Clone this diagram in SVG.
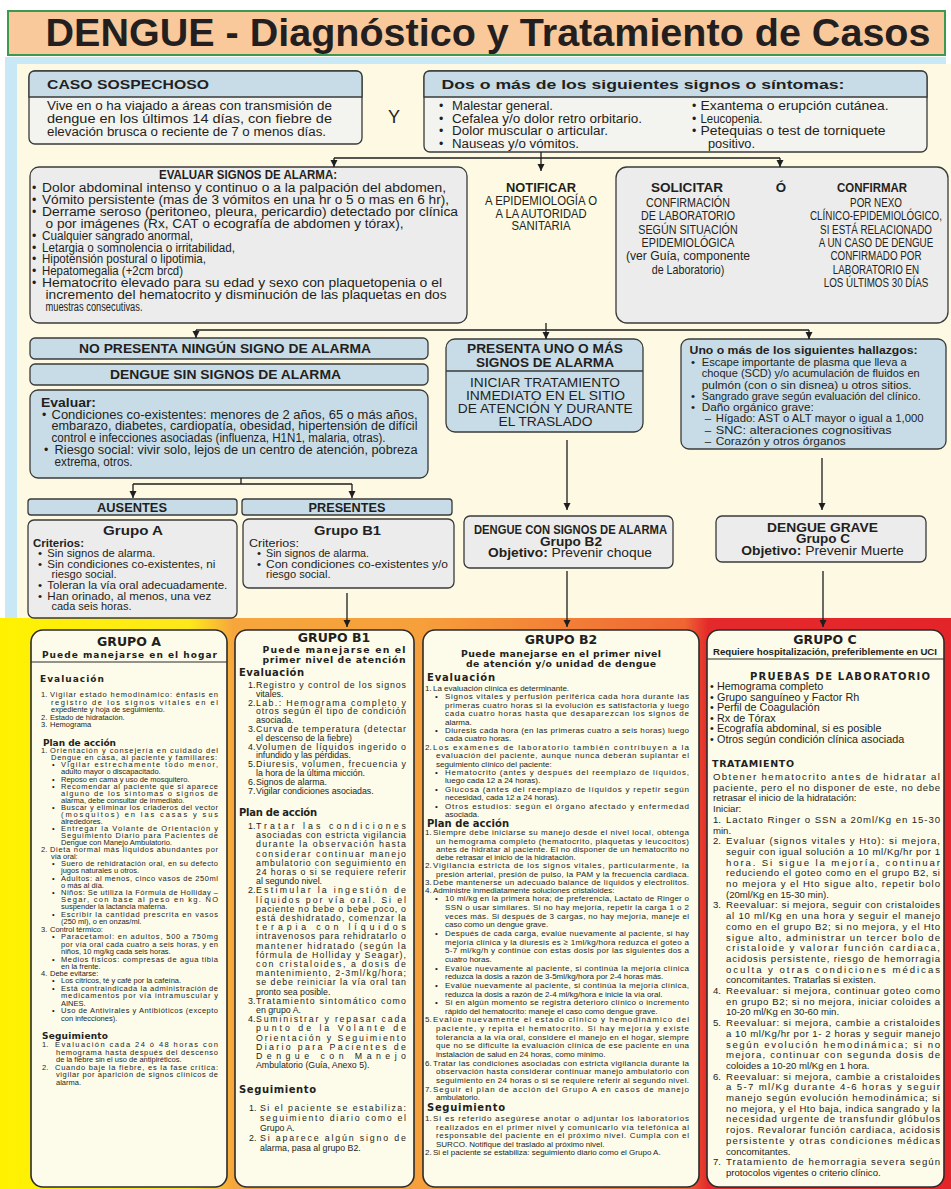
<svg xmlns="http://www.w3.org/2000/svg" width="951" height="1189" viewBox="0 0 951 1189">
<defs>
<marker id="ah" markerUnits="userSpaceOnUse" markerWidth="8" markerHeight="8" refX="7" refY="4" orient="auto"><path d="M0,0.5 L7,4 L0,7.5 Z" fill="#1e1e1e"/></marker>
<linearGradient id="bot" x1="0" y1="0" x2="951" y2="0" gradientUnits="userSpaceOnUse">
<stop offset="0" stop-color="#fff200"/>
<stop offset="0.2" stop-color="#fde81c"/>
<stop offset="0.245" stop-color="#f7a63d"/>
<stop offset="0.44" stop-color="#f6a03b"/>
<stop offset="0.72" stop-color="#ef6533"/>
<stop offset="0.745" stop-color="#e4292b"/>
<stop offset="1" stop-color="#e3252a"/>
</linearGradient>
</defs>
<style>
.t{font-family:"Liberation Sans",Arial,sans-serif;fill:#231f20}
.b{font-weight:bold}
.h{font-family:"DejaVu Sans","Liberation Sans",sans-serif;font-weight:bold;fill:#231f20}
.m{text-anchor:middle}
.bx{stroke:#3a3a3a;stroke-width:1.3}
.blue{fill:#c8dce8}
.gray{fill:#ececec}
.col{fill:#fdfbea;stroke:#2b2b2b;stroke-width:1.6}
.conn{stroke:#1e1e1e;stroke-width:1.3;fill:none}
.u{font-size:12.3px}
.us{font-size:11.6px}
.ub{font-size:13.3px;font-weight:bold}
.cb{font-size:12.4px;font-weight:bold}
</style>

<!-- backgrounds -->
<rect x="0" y="0" width="951" height="1189" fill="#ffffff"/>
<rect x="5" y="57" width="941" height="563" fill="#c8e8f5"/>
<rect x="17" y="64" width="934" height="556" fill="#fdf9e2"/>
<rect x="0" y="618" width="951" height="571" fill="url(#bot)"/>

<g id="title">
<rect x="8" y="11" width="937" height="44" fill="#f9c99b" stroke="#3c9a4e" stroke-width="2"/>
<text class="t b" x="45.5" y="46" font-size="38" textLength="885" lengthAdjust="spacingAndGlyphs">DENGUE - Diagnóstico y Tratamiento de Casos</text>
</g>

<g id="caso-sospechoso">
<rect class="bx" x="29" y="71" width="333" height="73" rx="6" fill="#f3f3f0"/>
<path class="bx blue" d="M29,97 V77 Q29,71 35,71 H356 Q362,71 362,77 V97 Z"/>
<text class="t ub" x="47" y="89" textLength="162" lengthAdjust="spacingAndGlyphs">CASO SOSPECHOSO</text>
<text class="t u" x="47" y="110" textLength="285" lengthAdjust="spacingAndGlyphs">Vive en o ha viajado a áreas con transmisión de</text>
<text class="t u" x="47" y="123" textLength="285" lengthAdjust="spacingAndGlyphs">dengue en los últimos 14 días, con fiebre de</text>
<text class="t u" x="47" y="136" textLength="279" lengthAdjust="spacingAndGlyphs">elevación brusca o reciente de 7 o menos días.</text>
</g>

<text class="t" x="388" y="123" font-size="18">Y</text>

<g id="signos-sintomas">
<rect class="bx" x="424" y="71" width="503" height="81" rx="6" fill="#f3f3f0"/>
<path class="bx blue" d="M424,97 V77 Q424,71 430,71 H921 Q927,71 927,77 V97 Z"/>
<text class="t ub" x="441.5" y="89" textLength="403" lengthAdjust="spacingAndGlyphs">Dos o más de los siguientes signos o síntomas:</text>
<text class="t u" x="439" y="110">•</text><text class="t u" x="452" y="110" textLength="101" lengthAdjust="spacingAndGlyphs">Malestar general.</text>
<text class="t u" x="439" y="122.5">•</text><text class="t u" x="452" y="122.5" textLength="190" lengthAdjust="spacingAndGlyphs">Cefalea y/o dolor retro orbitario.</text>
<text class="t u" x="439" y="135">•</text><text class="t u" x="452" y="135" textLength="156" lengthAdjust="spacingAndGlyphs">Dolor muscular o articular.</text>
<text class="t u" x="439" y="147.5">•</text><text class="t u" x="452" y="147.5" textLength="127" lengthAdjust="spacingAndGlyphs">Nauseas y/o vómitos.</text>
<text class="t u" x="692" y="110">•</text><text class="t u" x="700.5" y="110" textLength="188" lengthAdjust="spacingAndGlyphs">Exantema o erupción cutánea.</text>
<text class="t u" x="692" y="122.5">•</text><text class="t u" x="700.5" y="122.5" textLength="62" lengthAdjust="spacingAndGlyphs">Leucopenia.</text>
<text class="t u" x="692" y="135">•</text><text class="t u" x="700.5" y="135" textLength="185" lengthAdjust="spacingAndGlyphs">Petequias o test de torniquete</text>
<text class="t u" x="708" y="147.5" textLength="47" lengthAdjust="spacingAndGlyphs">positivo.</text>
</g>

<g id="evaluar-signos">
<rect class="bx gray" x="30" y="167" width="437" height="156" rx="9"/>
<text class="t ub" x="159" y="179" textLength="178" lengthAdjust="spacingAndGlyphs">EVALUAR SIGNOS DE ALARMA:</text>
<text class="t u" x="32" y="192">•</text><text class="t u" x="42" y="192" textLength="404" lengthAdjust="spacingAndGlyphs">Dolor abdominal intenso y continuo o a la palpación del abdomen,</text>
<text class="t u" x="32" y="203.9">•</text><text class="t u" x="42" y="203.9" textLength="407" lengthAdjust="spacingAndGlyphs">Vómito persistente (mas de 3 vómitos en una hr o 5 o mas en 6 hr),</text>
<text class="t u" x="32" y="215.8">•</text><text class="t u" x="42" y="215.8" textLength="416" lengthAdjust="spacingAndGlyphs">Derrame seroso (peritoneo, pleura, pericardio) detectado por clínica</text>
<text class="t u" x="45.5" y="227.7" textLength="358" lengthAdjust="spacingAndGlyphs">o por imágenes (Rx, CAT o ecografía de abdomen y tórax),</text>
<text class="t u" x="32" y="239.6">•</text><text class="t u" x="42" y="239.6" textLength="151" lengthAdjust="spacingAndGlyphs">Cualquier sangrado anormal,</text>
<text class="t u" x="32" y="251.5">•</text><text class="t u" x="42" y="251.5" textLength="193" lengthAdjust="spacingAndGlyphs">Letargia o somnolencia o irritabilidad,</text>
<text class="t u" x="32" y="263.4">•</text><text class="t u" x="42" y="263.4" textLength="164" lengthAdjust="spacingAndGlyphs">Hipotensión postural o lipotimia,</text>
<text class="t u" x="32" y="275.3">•</text><text class="t u" x="42" y="275.3" textLength="141" lengthAdjust="spacingAndGlyphs">Hepatomegalia (+2cm brcd)</text>
<text class="t u" x="32" y="287.2">•</text><text class="t u" x="42" y="287.2" textLength="400" lengthAdjust="spacingAndGlyphs">Hematocrito elevado para su edad y sexo con plaquetopenia o el</text>
<text class="t u" x="45.5" y="299.1" textLength="401" lengthAdjust="spacingAndGlyphs">incremento del hematocrito y disminución de las plaquetas en dos</text>
<text class="t u" x="45.5" y="311" textLength="97" lengthAdjust="spacingAndGlyphs">muestras consecutivas.</text>
</g>

<g id="notificar">
<text class="t ub m" x="541" y="192" textLength="70" lengthAdjust="spacingAndGlyphs">NOTIFICAR</text>
<text class="t u m" x="541" y="205" textLength="112" lengthAdjust="spacingAndGlyphs">A EPIDEMIOLOGÍA O</text>
<text class="t u m" x="541" y="217.5" textLength="91" lengthAdjust="spacingAndGlyphs">A LA AUTORIDAD</text>
<text class="t u m" x="541" y="230" textLength="59" lengthAdjust="spacingAndGlyphs">SANITARIA</text>
</g>

<g id="solicitar-confirmar">
<rect class="bx gray" x="616" y="167" width="332" height="156" rx="11"/>
<text class="t ub m" x="687" y="192" textLength="72" lengthAdjust="spacingAndGlyphs">SOLICITAR</text>
<text class="t ub m" x="781" y="192">Ó</text>
<text class="t ub m" x="872" y="192" textLength="70" lengthAdjust="spacingAndGlyphs">CONFIRMAR</text>
<g transform="translate(688 0) scale(0.85 1)">
<text class="t m" x="0" y="207" font-size="12.6">CONFIRMACIÓN</text>
<text class="t m" x="0" y="220.3" font-size="12.6">DE LABORATORIO</text>
<text class="t m" x="0" y="233.6" font-size="12.6">SEGÚN SITUACIÓN</text>
<text class="t m" x="0" y="247" font-size="12.6">EPIDEMIOLÓGICA</text>
<text class="t m" x="0" y="260.3" font-size="12.6" textLength="146" lengthAdjust="spacingAndGlyphs">(ver Guía, componente</text>
<text class="t m" x="0" y="273.6" font-size="12.6">de Laboratorio)</text>
</g>
<g transform="translate(876 0) scale(0.78 1)">
<text class="t m" x="0" y="207" font-size="12.6">POR NEXO</text>
<text class="t m" x="0" y="220.3" font-size="12.6">CLÍNICO-EPIDEMIOLÓGICO,</text>
<text class="t m" x="0" y="233.6" font-size="12.6">SI ESTÁ RELACIONADO</text>
<text class="t m" x="0" y="247" font-size="12.6">A UN CASO DE DENGUE</text>
<text class="t m" x="0" y="260.3" font-size="12.6">CONFIRMADO POR</text>
<text class="t m" x="0" y="273.6" font-size="12.6">LABORATORIO EN</text>
<text class="t m" x="0" y="287" font-size="12.6">LOS ÚLTIMOS 30 DÍAS</text>
</g>
</g>

<g id="no-presenta">
<rect class="bx blue" x="30" y="338" width="398" height="21" rx="5"/>
<text class="t ub m" x="225" y="353" textLength="292" lengthAdjust="spacingAndGlyphs">NO PRESENTA NINGÚN SIGNO DE ALARMA</text>
</g>
<g id="dengue-sin-signos">
<rect class="bx blue" x="30" y="364" width="398" height="21" rx="5"/>
<text class="t ub m" x="225.5" y="379" textLength="231" lengthAdjust="spacingAndGlyphs">DENGUE SIN SIGNOS DE ALARMA</text>
</g>
<g id="evaluar-condiciones">
<rect class="bx blue" x="30" y="390" width="398" height="88" rx="8"/>
<text class="t ub" x="41" y="407" textLength="55" lengthAdjust="spacingAndGlyphs">Evaluar:</text>
<text class="t u" x="42" y="418.5">•</text><text class="t u" x="51.5" y="418.5" textLength="366" lengthAdjust="spacingAndGlyphs">Condiciones co-existentes: menores de 2 años, 65 o más años,</text>
<text class="t u" x="51.5" y="430" textLength="366" lengthAdjust="spacingAndGlyphs">embarazo, diabetes, cardiopatía, obesidad, hipertensión de difícil</text>
<text class="t u" x="51.5" y="442" textLength="334" lengthAdjust="spacingAndGlyphs">control e infecciones asociadas (influenza, H1N1, malaria, otras).</text>
<text class="t u" x="44" y="454">•</text><text class="t u" x="54.6" y="454" textLength="363" lengthAdjust="spacingAndGlyphs">Riesgo social: vivir solo, lejos de un centro de atención, pobreza</text>
<text class="t u" x="54.6" y="466" textLength="78" lengthAdjust="spacingAndGlyphs">extrema, otros.</text>
</g>

<g id="ausentes">
<rect class="bx blue" x="28" y="499" width="209" height="16" rx="3"/>
<text class="t cb m" x="132" y="511.5" textLength="70" lengthAdjust="spacingAndGlyphs">AUSENTES</text>
</g>
<g id="presentes">
<rect class="bx blue" x="242" y="499" width="210" height="16" rx="3"/>
<text class="t cb m" x="347" y="511.5" textLength="77" lengthAdjust="spacingAndGlyphs">PRESENTES</text>
</g>

<g id="grupo-a-criterios">
<rect class="bx gray" x="28" y="520" width="209" height="98" rx="6"/>
<text class="t cb m" x="133" y="535" textLength="60" lengthAdjust="spacingAndGlyphs">Grupo A</text>
<text class="t us b" x="33" y="546.5" textLength="51" lengthAdjust="spacingAndGlyphs">Criterios:</text>
<text class="t us" x="38" y="557">•</text><text class="t us" x="47.3" y="557" textLength="108" lengthAdjust="spacingAndGlyphs">Sin signos de alarma.</text>
<text class="t us" x="38" y="567.5">•</text><text class="t us" x="47.3" y="567.5" textLength="168" lengthAdjust="spacingAndGlyphs">Sin condiciones co-existentes, ni</text>
<text class="t us" x="51.5" y="578" textLength="65" lengthAdjust="spacingAndGlyphs">riesgo social.</text>
<text class="t us" x="38" y="588.5">•</text><text class="t us" x="47.3" y="588.5" textLength="180" lengthAdjust="spacingAndGlyphs">Toleran la vía oral adecuadamente.</text>
<text class="t us" x="38" y="599.5">•</text><text class="t us" x="47.3" y="599.5" textLength="164" lengthAdjust="spacingAndGlyphs">Han orinado, al menos, una vez</text>
<text class="t us" x="51.5" y="610" textLength="80" lengthAdjust="spacingAndGlyphs">cada seis horas.</text>
</g>

<g id="grupo-b1-criterios">
<rect class="bx gray" x="243" y="519" width="211" height="69" rx="6"/>
<text class="t cb m" x="347.5" y="535" textLength="67" lengthAdjust="spacingAndGlyphs">Grupo B1</text>
<text class="t us" x="249" y="546.5" textLength="50" lengthAdjust="spacingAndGlyphs">Criterios:</text>
<text class="t us" x="257" y="557">•</text><text class="t us" x="266" y="557" textLength="103" lengthAdjust="spacingAndGlyphs">Sin signos de alarma.</text>
<text class="t us" x="257" y="567.5">•</text><text class="t us" x="266" y="567.5" textLength="182" lengthAdjust="spacingAndGlyphs">Con condiciones co-existentes y/o</text>
<text class="t us" x="266" y="578" textLength="64.5" lengthAdjust="spacingAndGlyphs">riesgo social.</text>
</g>

<g id="presenta-signos">
<rect class="bx blue" x="446" y="339" width="197" height="93" rx="9"/>
<line class="bx" x1="446" y1="371" x2="643" y2="371"/>
<text class="t m" x="545" y="353" font-size="13.5" font-weight="bold" textLength="156" lengthAdjust="spacingAndGlyphs">PRESENTA UNO O MÁS</text>
<text class="t m" x="545" y="366.5" font-size="13.5" font-weight="bold" textLength="138" lengthAdjust="spacingAndGlyphs">SIGNOS DE ALARMA</text>
<text class="t m" x="545" y="386.5" font-size="13.5" textLength="150" lengthAdjust="spacingAndGlyphs">INICIAR TRATAMIENTO</text>
<text class="t m" x="545.5" y="399.5" font-size="13.5" textLength="159" lengthAdjust="spacingAndGlyphs">INMEDIATO EN EL SITIO</text>
<text class="t m" x="545.3" y="412.5" font-size="13.5" textLength="175" lengthAdjust="spacingAndGlyphs">DE ATENCIÓN Y DURANTE</text>
<text class="t m" x="545.5" y="426" font-size="13.5" textLength="94" lengthAdjust="spacingAndGlyphs">EL TRASLADO</text>
</g>

<g id="dengue-con-signos">
<rect class="bx gray" x="464" y="516" width="209" height="52" rx="6"/>
<text class="t cb m" x="570.5" y="534" textLength="193" lengthAdjust="spacingAndGlyphs">DENGUE CON SIGNOS DE ALARMA</text>
<text class="t cb m" x="571" y="545.5" textLength="62" lengthAdjust="spacingAndGlyphs">Grupo B2</text>
<text class="t m" x="570" y="557" font-size="12.4" textLength="164" lengthAdjust="spacingAndGlyphs"><tspan font-weight="bold">Objetivo:</tspan> Prevenir choque</text>
</g>

<g id="hallazgos-graves">
<rect class="bx blue" x="681" y="339" width="265" height="110" rx="8"/>
<text class="t us b" x="689.6" y="353.5" textLength="228" lengthAdjust="spacingAndGlyphs">Uno o más de los siguientes hallazgos:</text>
<text class="t us" x="691" y="365.5">•</text><text class="t us" x="701.7" y="365.5" textLength="205" lengthAdjust="spacingAndGlyphs">Escape importante de plasma que lleva a</text>
<text class="t us" x="701.7" y="377" textLength="218" lengthAdjust="spacingAndGlyphs">choque (SCD) y/o acumulación de fluidos en</text>
<text class="t us" x="701.7" y="388.5" textLength="210" lengthAdjust="spacingAndGlyphs">pulmón (con o sin disnea) u otros sitios.</text>
<text class="t us" x="691" y="399.5">•</text><text class="t us" x="701.7" y="399.5" textLength="219" lengthAdjust="spacingAndGlyphs">Sangrado grave según evaluación del clínico.</text>
<text class="t us" x="691" y="410.5">•</text><text class="t us" x="701.7" y="410.5" textLength="112" lengthAdjust="spacingAndGlyphs">Daño orgánico grave:</text>
<text class="t us" x="704.7" y="422">–</text><text class="t us" x="715.7" y="422" textLength="208" lengthAdjust="spacingAndGlyphs">Hígado: AST o ALT mayor o igual a 1,000</text>
<text class="t us" x="704.7" y="433.5">–</text><text class="t us" x="715.7" y="433.5" textLength="176" lengthAdjust="spacingAndGlyphs">SNC: alteraciones cognositivas</text>
<text class="t us" x="704.7" y="444.5">–</text><text class="t us" x="715.7" y="444.5" textLength="130" lengthAdjust="spacingAndGlyphs">Corazón y otros órganos</text>
</g>

<g id="dengue-grave">
<rect class="bx gray" x="716" y="516" width="210" height="46" rx="6"/>
<text class="t cb m" x="822.5" y="532" textLength="111" lengthAdjust="spacingAndGlyphs">DENGUE GRAVE</text>
<text class="t cb m" x="823" y="543" textLength="54" lengthAdjust="spacingAndGlyphs">Grupo C</text>
<text class="t m" x="822.5" y="554.5" font-size="12.4" textLength="162.6" lengthAdjust="spacingAndGlyphs"><tspan font-weight="bold">Objetivo:</tspan> Prevenir Muerte</text>
</g>

<!-- ============ GRUPO A column ============ -->
<g id="col-grupo-a">
<rect class="col" x="31" y="630" width="196" height="557" rx="12"/>
<line x1="31" y1="662" x2="227" y2="662" stroke="#2b2b2b" stroke-width="1"/>
<text class="h m" x="129" y="646" font-size="12.5">GRUPO A</text>
<text class="h m" x="129.5" y="657.5" font-size="9" textLength="175">Puede manejarse en el hogar</text>
<g class="t" font-size="7.5">
<text class="h" x="40" y="682" font-size="9" textLength="64">Evaluación</text>
<text x="41" y="697">1.</text><text x="50" y="697" textLength="168">Vigilar estado hemodinámico: énfasis en</text>
<text x="51" y="704.5" textLength="167">registro de los signos vitales en el</text>
<text x="51" y="712">expediente y hoja de seguimiento.</text>
<text x="41" y="719.5">2.</text><text x="50" y="719.5">Estado de hidratación.</text>
<text x="41" y="727">3.</text><text x="50" y="727">Hemograma</text>
<text class="h" x="43" y="746" font-size="9" textLength="73">Plan de acción</text>
<text x="41" y="753">1.</text><text x="50" y="753" textLength="168">Orientación y consejería en cuidado del</text>
<text x="51" y="760" textLength="166">Dengue en casa, al paciente y familiares:</text>
<text x="52" y="767">•</text><text x="61" y="767" textLength="157">Vigilar estrechamente todo menor,</text>
<text x="61" y="774">adulto mayor o discapacitado.</text>
<text x="52" y="781.5">•</text><text x="61" y="781.5">Reposo en cama y uso de mosquitero.</text>
<text x="52" y="789">•</text><text x="61" y="789" textLength="157">Recomendar al paciente que si aparece</text>
<text x="61" y="796" textLength="157">alguno de los síntomas o signos de</text>
<text x="61" y="803">alarma, debe consultar de inmediato.</text>
<text x="52" y="810">•</text><text x="61" y="810" textLength="157">Buscar y eliminar los criaderos del vector</text>
<text x="61" y="817" textLength="157">(mosquitos) en las casas y sus</text>
<text x="61" y="824">alrededores.</text>
<text x="52" y="831">•</text><text x="61" y="831" textLength="157">Entregar la Volante de Orientación y</text>
<text x="61" y="838" textLength="157">Seguimiento Diario para Pacientes de</text>
<text x="61" y="845">Dengue con Manejo Ambulatorio.</text>
<text x="41" y="852">2.</text><text x="50" y="852" textLength="168">Dieta normal más líquidos abundantes por</text>
<text x="51" y="859">vía oral:</text>
<text x="52" y="866">•</text><text x="61" y="866" textLength="157">Suero de rehidratación oral, en su defecto</text>
<text x="61" y="873">jugos naturales u otros.</text>
<text x="52" y="880.5">•</text><text x="61" y="880.5" textLength="157">Adultos: al menos, cinco vasos de 250ml</text>
<text x="61" y="887.5">o más al día.</text>
<text x="52" y="894.5">•</text><text x="61" y="894.5" textLength="157">Niños: Se utiliza la Fórmula de Holliday –</text>
<text x="61" y="902" textLength="157">Segar, con base al peso en kg. NO</text>
<text x="61" y="909">suspender la lactancia materna.</text>
<text x="52" y="916.5">•</text><text x="61" y="916.5" textLength="157">Escribir la cantidad prescrita en vasos</text>
<text x="61" y="924">(250 ml), o en onzas/ml.</text>
<text x="41" y="931.5">3.</text><text x="50" y="931.5">Control térmico:</text>
<text x="52" y="939">•</text><text x="61" y="939" textLength="157">Paracetamol: en adultos, 500 a 750mg</text>
<text x="61" y="946.5" textLength="157">por vía oral cada cuatro a seis horas, y en</text>
<text x="61" y="954">niños, 10 mg/kg cada seis horas.</text>
<text x="52" y="961.5">•</text><text x="61" y="961.5" textLength="157">Medios físicos: compresas de agua tibia</text>
<text x="61" y="969">en la frente.</text>
<text x="41" y="976">4.</text><text x="50" y="976">Debe evitarse:</text>
<text x="52" y="983">•</text><text x="61" y="983">Los cítricos, té y café por la cafeína.</text>
<text x="52" y="990.5">•</text><text x="61" y="990.5" textLength="157">Está contraindicada la administración de</text>
<text x="61" y="998" textLength="157">medicamentos por vía intramuscular y</text>
<text x="61" y="1005.5">AINES.</text>
<text x="52" y="1013">•</text><text x="61" y="1013" textLength="157">Uso de Antivirales y Antibióticos (excepto</text>
<text x="61" y="1020.5">con infecciones).</text>
<text class="h" x="42" y="1039" font-size="9" textLength="66">Seguimiento</text>
<text x="42" y="1047">1.</text><text x="55" y="1047" textLength="163">Evaluación cada 24 ó 48 horas con</text>
<text x="56" y="1054.5" textLength="162">hemograma hasta después del descenso</text>
<text x="56" y="1062">de la fiebre sin el uso de antipiréticos.</text>
<text x="42" y="1069.5">2.</text><text x="55" y="1069.5" textLength="163">Cuando baje la fiebre, es la fase crítica:</text>
<text x="56" y="1077" textLength="162">vigilar por aparición de signos clínicos de</text>
<text x="56" y="1084.5">alarma.</text>
</g>
</g>

<!-- ============ GRUPO B1 column ============ -->
<g id="col-grupo-b1">
<rect class="col" x="235" y="630" width="179" height="557" rx="12"/>
<text class="h m" x="334" y="642" font-size="12.5">GRUPO B1</text>
<text class="h m" x="334" y="652.5" font-size="9.3" textLength="143">Puede manejarse en el</text>
<text class="h m" x="334" y="662.5" font-size="9.3" textLength="143">primer nivel de atención</text>
<g class="t" font-size="8.8">
<text class="h" x="239" y="676" font-size="10" textLength="65">Evaluación</text>
<text x="248" y="688">1.</text><text x="256" y="688" textLength="150">Registro y control de los signos</text>
<text x="256" y="696.8">vitales.</text>
<text x="248" y="705.6">2.</text><text x="256" y="705.6" textLength="150">Lab.: Hemograma completo y</text>
<text x="256" y="714.4" textLength="150">otros según el tipo de condición</text>
<text x="256" y="723.2">asociada.</text>
<text x="248" y="732">3.</text><text x="256" y="732" textLength="150">Curva de temperatura (detectar</text>
<text x="256" y="740.8">el descenso de la fiebre)</text>
<text x="248" y="749.6">4.</text><text x="256" y="749.6" textLength="150">Volumen de líquidos ingerido o</text>
<text x="256" y="758.4">infundido y las pérdidas.</text>
<text x="248" y="767.2">5.</text><text x="256" y="767.2" textLength="150">Diuresis, volumen, frecuencia y</text>
<text x="256" y="776">la hora de la última micción.</text>
<text x="248" y="784.8">6.</text><text x="256" y="784.8">Signos de alarma.</text>
<text x="248" y="793.6">7.</text><text x="256" y="793.6">Vigilar condiciones asociadas.</text>
<text class="h" x="239" y="816" font-size="10" textLength="78">Plan de acción</text>
<text x="248" y="829">1.</text><text x="256" y="829" textLength="150">Tratar las condiciones</text>
<text x="256" y="838.2" textLength="150">asociadas con estricta vigilancia</text>
<text x="256" y="847.4" textLength="150">durante la observación hasta</text>
<text x="256" y="856.6" textLength="150">considerar continuar manejo</text>
<text x="256" y="865.8" textLength="150">ambulatorio con seguimiento en</text>
<text x="256" y="875" textLength="150">24 horas o si se requiere referir</text>
<text x="256" y="884.2">al segundo nivel.</text>
<text x="248" y="893.4">2.</text><text x="256" y="893.4" textLength="150">Estimular la ingestión de</text>
<text x="256" y="902.6" textLength="150">líquidos por vía oral.  Si el</text>
<text x="256" y="911.8" textLength="150">paciente no bebe o bebe poco, o</text>
<text x="256" y="921" textLength="150">está deshidratado, comenzar la</text>
<text x="256" y="930.2" textLength="150">terapia con líquidos</text>
<text x="256" y="939.4" textLength="150">intravenosos para rehidratarlo o</text>
<text x="256" y="948.6" textLength="150">mantener hidratado (según la</text>
<text x="256" y="957.8" textLength="150">fórmula de Holliday y Seagar),</text>
<text x="256" y="967" textLength="150">con cristaloides, a dosis de</text>
<text x="256" y="976.2" textLength="150">mantenimiento, 2-3ml/kg/hora;</text>
<text x="256" y="985.4" textLength="150">se debe reiniciar la vía oral tan</text>
<text x="256" y="994.6">pronto sea posible.</text>
<text x="248" y="1003.8">3.</text><text x="256" y="1003.8" textLength="150">Tratamiento sintomático como</text>
<text x="256" y="1013">en grupo A.</text>
<text x="248" y="1022.2">4.</text><text x="256" y="1022.2" textLength="150">Suministrar y repasar cada</text>
<text x="256" y="1031.4" textLength="150">punto de la Volante de</text>
<text x="256" y="1040.6" textLength="150">Orientación y Seguimiento</text>
<text x="256" y="1049.8" textLength="150">Diario para Pacientes de</text>
<text x="256" y="1059" textLength="150">Dengue con Manejo</text>
<text x="256" y="1068.2">Ambulatorio (Guía, Anexo 5).</text>
<text class="h" x="239" y="1093" font-size="10" textLength="77">Seguimiento</text>
<text x="249" y="1111">1.</text><text x="260" y="1111" textLength="146">Si el paciente se estabiliza:</text>
<text x="260" y="1121" textLength="146">seguimiento diario como el</text>
<text x="260" y="1131">Grupo A.</text>
<text x="249" y="1141">2.</text><text x="260" y="1141" textLength="146">Si aparece algún signo de</text>
<text x="260" y="1151">alarma, pasa al grupo B2.</text>
</g>
</g>

<!-- ============ GRUPO B2 column ============ -->
<g id="col-grupo-b2">
<rect class="col" x="423" y="630" width="276" height="557" rx="12"/>
<text class="h m" x="561" y="644" font-size="12.5">GRUPO B2</text>
<text class="h m" x="561" y="656.5" font-size="9.3" textLength="200">Puede manejarse en el primer nivel</text>
<text class="h m" x="561" y="666.5" font-size="9.3" textLength="190">de atención y/o unidad de dengue</text>
<g class="t" font-size="8">
<text class="h" x="427" y="681" font-size="10" textLength="68">Evaluación</text>
<text x="425" y="691">1.</text><text x="433" y="691">La evaluación clínica es determinante.</text>
<text x="435" y="699.4">•</text><text x="445" y="699.4" textLength="244">Signos vitales y perfusión periférica cada hora durante las</text>
<text x="445" y="707.8" textLength="244">primeras cuatro horas si la evolución es satisfactoria y luego</text>
<text x="445" y="716.2" textLength="244">cada cuatro horas hasta que desaparezcan los signos de</text>
<text x="445" y="724.6">alarma.</text>
<text x="435" y="733">•</text><text x="445" y="733" textLength="244">Diuresis cada hora (en las primeras cuatro a seis horas) luego</text>
<text x="445" y="741.4">cada cuatro horas.</text>
<text x="425" y="749.8">2.</text><text x="433" y="749.8" textLength="256">Los exámenes de laboratorio también contribuyen a la</text>
<text x="436" y="758.2" textLength="253">evaluación del paciente, aunque nunca deberán suplantar el</text>
<text x="436" y="766.6">seguimiento clínico del paciente:</text>
<text x="435" y="775">•</text><text x="445" y="775" textLength="244">Hematocrito (antes y después del reemplazo de líquidos,</text>
<text x="445" y="783.4">luego cada 12 a 24 horas).</text>
<text x="435" y="791.8">•</text><text x="445" y="791.8" textLength="244">Glucosa (antes del reemplazo de líquidos y repetir según</text>
<text x="445" y="800.2">necesidad, cada 12 a 24 horas).</text>
<text x="435" y="808.6">•</text><text x="445" y="808.6" textLength="244">Otros estudios: según el órgano afectado y enfermedad</text>
<text x="445" y="817">asociada.</text>
<text class="h" x="427" y="827" font-size="10" textLength="82">Plan de acción</text>
<text x="425" y="835.3">1.</text><text x="433" y="835.3" textLength="256">Siempre debe iniciarse su manejo desde el nivel local, obtenga</text>
<text x="436" y="843.5" textLength="253">un hemograma completo (hematocrito, plaquetas y leucocitos)</text>
<text x="436" y="851.8" textLength="253">antes de hidratar al paciente. El no disponer de un hematocrito no</text>
<text x="436" y="860">debe retrasar el inicio de la hidratación.</text>
<text x="425" y="868.3">2.</text><text x="433" y="868.3" textLength="256">Vigilancia estricta de los signos vitales, particularmente, la</text>
<text x="436" y="876.5" textLength="253">presión arterial, presión de pulso, la PAM y la frecuencia cardiaca.</text>
<text x="425" y="884.8">3.</text><text x="433" y="884.8" textLength="256">Debe mantenerse un adecuado balance de líquidos y electrolitos.</text>
<text x="425" y="893">4.</text><text x="433" y="893">Administre inmediatamente soluciones cristaloides:</text>
<text x="435" y="901.3">•</text><text x="445" y="901.3" textLength="244">10 ml/kg en la primera hora; de preferencia, Lactato de Ringer o</text>
<text x="445" y="910" textLength="244">SSN o usar similares. Si no hay mejoría, repetir la carga 1 o 2</text>
<text x="445" y="918.6" textLength="244">veces más.   Si después de 3 cargas, no hay mejoría, maneje el</text>
<text x="445" y="927.3">caso como un dengue grave.</text>
<text x="435" y="935.9">•</text><text x="445" y="935.9" textLength="244">Después de cada carga, evalúe nuevamente al paciente, si hay</text>
<text x="445" y="944.6" textLength="244">mejoría clínica y la diuresis es ≥ 1ml/kg/hora reduzca el goteo a</text>
<text x="445" y="953.2" textLength="244">5-7 ml/kg/h y continúe con estas dosis por las siguientes dos a</text>
<text x="445" y="961.9">cuatro horas.</text>
<text x="435" y="970.5">•</text><text x="445" y="970.5" textLength="244">Evalúe nuevamente al paciente, si continúa la mejoría clínica</text>
<text x="445" y="979.2">reduzca la dosis a razón de 3-5ml/kg/hora por 2-4 horas más.</text>
<text x="435" y="987.8">•</text><text x="445" y="987.8" textLength="244">Evalúe nuevamente al paciente, si continúa la mejoría clínica,</text>
<text x="445" y="996.5">reduzca la dosis a razón de 2-4 ml/kg/hora e inicie la vía oral.</text>
<text x="435" y="1005.1">•</text><text x="445" y="1005.1" textLength="244">Si en algún momento se registra deterioro clínico o incremento</text>
<text x="445" y="1013.8">rápido del hematocrito:  maneje el caso como dengue grave.</text>
<text x="425" y="1022.4">5.</text><text x="433" y="1022.4" textLength="256">Evalúe nuevamente el estado clínico y hemodinámico del</text>
<text x="436" y="1031.1" textLength="253">paciente, y repita el hematocrito.   Si hay mejoría y existe</text>
<text x="436" y="1039.7" textLength="253">tolerancia a la vía oral, considere el manejo en el hogar, siempre</text>
<text x="436" y="1048.4" textLength="253">que no se dificulte la evaluación clínica de ese paciente en una</text>
<text x="436" y="1057">instalación de salud en 24 horas, como mínimo.</text>
<text x="425" y="1065.7">6.</text><text x="433" y="1065.7" textLength="256">Tratar las condiciones asociadas con estricta vigilancia durante la</text>
<text x="436" y="1074.3" textLength="253">observación hasta considerar continuar manejo ambulatorio con</text>
<text x="436" y="1083" textLength="253">seguimiento en 24 horas o si se requiere referir al segundo nivel.</text>
<text x="425" y="1091.6">7.</text><text x="433" y="1091.6" textLength="256">Seguir el plan de acción del Grupo A en casos de manejo</text>
<text x="436" y="1100.3">ambulatorio.</text>
<text class="h" x="427" y="1110.5" font-size="10" textLength="78">Seguimiento</text>
<text x="425" y="1121">1.</text><text x="433" y="1121" textLength="256">Si es referido asegúrese anotar o adjuntar los laboratorios</text>
<text x="436" y="1129.6" textLength="253">realizados en el primer nivel y comunicarlo vía telefónica al</text>
<text x="436" y="1138.2" textLength="253">responsable del paciente en el próximo nivel.   Cumpla con el</text>
<text x="436" y="1146.8">SURCO. Notifique del traslado al próximo nivel.</text>
<text x="425" y="1155.4">2.</text><text x="433" y="1155.4">Si el paciente se estabiliza:  seguimiento diario como el Grupo A.</text>
</g>
</g>

<!-- ============ GRUPO C column ============ -->
<g id="col-grupo-c">
<rect class="col" x="707" y="630" width="237" height="557" rx="12"/>
<line x1="707" y1="659" x2="944" y2="659" stroke="#2b2b2b" stroke-width="1"/>
<text class="h m" x="825" y="644" font-size="12.5">GRUPO C</text>
<text class="t b m" x="825" y="654.5" font-size="9.3" textLength="224" lengthAdjust="spacingAndGlyphs">Requiere hospitalización, preferiblemente en UCI</text>
<text class="h" x="750" y="680" font-size="10" textLength="180">PRUEBAS DE LABORATORIO</text>
<g class="t" font-size="10.8">
<text x="710" y="690">•</text><text x="717" y="690">Hemograma completo</text>
<text x="710" y="700.5">•</text><text x="717" y="700.5">Grupo sanguíneo y Factor Rh</text>
<text x="710" y="711">•</text><text x="717" y="711">Perfil de Coagulación</text>
<text x="710" y="721.5">•</text><text x="717" y="721.5">Rx de Tórax</text>
<text x="710" y="732">•</text><text x="717" y="732">Ecografía abdominal, si es posible</text>
<text x="710" y="742.5">•</text><text x="717" y="742.5">Otros según condición clínica asociada</text>
</g>
<text class="h" x="712" y="767" font-size="9.5" textLength="82">TRATAMIENTO</text>
<g class="t" font-size="9.6">
<text x="713" y="780" textLength="227">Obtener hematocrito antes de hidratar al</text>
<text x="713" y="790.7" textLength="227">paciente, pero el no disponer de este, no debe</text>
<text x="713" y="801.4">retrasar el inicio de la hidratación:</text>
<text x="713" y="812.1">Iniciar:</text>
<text x="713" y="822.8">1.</text><text x="726" y="822.8" textLength="214">Lactato Ringer o SSN a 20ml/Kg en 15-30</text>
<text x="713" y="833.5">min.</text>
<text x="713" y="844.2">2.</text><text x="726" y="844.2" textLength="214">Evaluar (signos vitales y Hto): si mejora,</text>
<text x="726" y="854.9" textLength="214">seguir con igual solución a 10 ml/Kg/hr por 1</text>
<text x="726" y="865.6" textLength="214">hora. Si sigue la mejoría, continuar</text>
<text x="726" y="876.3" textLength="214">reduciendo el goteo como en el grupo B2, si</text>
<text x="726" y="887" textLength="214">no mejora y el Hto sigue alto, repetir bolo</text>
<text x="726" y="897.7">(20ml/Kg en 15-30 min).</text>
<text x="713" y="908.4">3.</text><text x="726" y="908.4" textLength="214">Reevaluar: si mejora, seguir con cristaloides</text>
<text x="726" y="919.1" textLength="214">al 10 ml/Kg en una hora y seguir el manejo</text>
<text x="726" y="929.8" textLength="214">como en el grupo B2; si no mejora, y el Hto</text>
<text x="726" y="940.5" textLength="214">sigue alto, administrar un tercer bolo de</text>
<text x="726" y="951.2" textLength="214">cristaloide y valorar función cardiaca,</text>
<text x="726" y="961.9" textLength="214">acidosis persistente, riesgo de hemorragia</text>
<text x="726" y="972.6" textLength="214">oculta y otras condiciones médicas</text>
<text x="726" y="983.3">concomitantes.  Tratarlas si existen.</text>
<text x="713" y="994">4.</text><text x="726" y="994" textLength="214">Reevaluar: si mejora, continuar goteo como</text>
<text x="726" y="1004.7" textLength="214">en grupo B2; si no mejora, iniciar coloides  a</text>
<text x="726" y="1015.4">10-20 ml/Kg en 30-60 min.</text>
<text x="713" y="1026.1">5.</text><text x="726" y="1026.1" textLength="214">Reevaluar: si mejora, cambie a cristaloides</text>
<text x="726" y="1036.8" textLength="214">a 10 ml/Kg/hr por 1- 2 horas y seguir manejo</text>
<text x="726" y="1047.5" textLength="214">según evolución hemodinámica; si no</text>
<text x="726" y="1058.2" textLength="214">mejora, continuar con segunda dosis de</text>
<text x="726" y="1068.9">coloides a 10-20 ml/Kg en 1 hora.</text>
<text x="713" y="1079.6">6.</text><text x="726" y="1079.6" textLength="214">Reevaluar: si mejora, cambie a cristaloides</text>
<text x="726" y="1090.3" textLength="214">a 5-7 ml/Kg durante 4-6 horas y seguir</text>
<text x="726" y="1101" textLength="214">manejo según evolución hemodinámica; si</text>
<text x="726" y="1111.7" textLength="214">no mejora, y el Hto baja, indica sangrado y la</text>
<text x="726" y="1122.4" textLength="214">necesidad urgente de transfundir glóbulos</text>
<text x="726" y="1133.1" textLength="214">rojos. Revalorar función cardiaca, acidosis</text>
<text x="726" y="1143.8" textLength="214">persistente y otras condiciones médicas</text>
<text x="726" y="1154.5">concomitantes.</text>
<text x="713" y="1165.2">7.</text><text x="726" y="1165.2" textLength="214">Tratamiento de hemorragia severa según</text>
<text x="726" y="1175.9">protocolos vigentes o criterio clínico.</text>
</g>
</g>

<g id="connectors" class="conn">
<path d="M541,152 V158 M334,158 H780"/>
<line x1="334" y1="158" x2="334" y2="167" marker-end="url(#ah)"/>
<line x1="541" y1="158" x2="541" y2="171" marker-end="url(#ah)"/>
<line x1="780" y1="158" x2="780" y2="167" marker-end="url(#ah)"/>
<path d="M546,323 V330 M196,330 H809"/>
<line x1="196" y1="330" x2="196" y2="338" marker-end="url(#ah)"/>
<line x1="546" y1="330" x2="546" y2="339" marker-end="url(#ah)"/>
<line x1="809" y1="330" x2="809" y2="339" marker-end="url(#ah)"/>
<path d="M241,478 V484 M133,484 H352"/>
<line x1="133" y1="484" x2="133" y2="498" marker-end="url(#ah)"/>
<line x1="352" y1="484" x2="352" y2="498" marker-end="url(#ah)"/>
<line x1="567" y1="440" x2="567" y2="510" marker-end="url(#ah)"/>
<line x1="822" y1="458" x2="822" y2="510" marker-end="url(#ah)"/>
<line x1="347" y1="593" x2="347" y2="627" marker-end="url(#ah)"/>
<line x1="567" y1="571" x2="567" y2="627" marker-end="url(#ah)"/>
<line x1="823" y1="571" x2="823" y2="627" marker-end="url(#ah)"/>
</g>
</svg>
